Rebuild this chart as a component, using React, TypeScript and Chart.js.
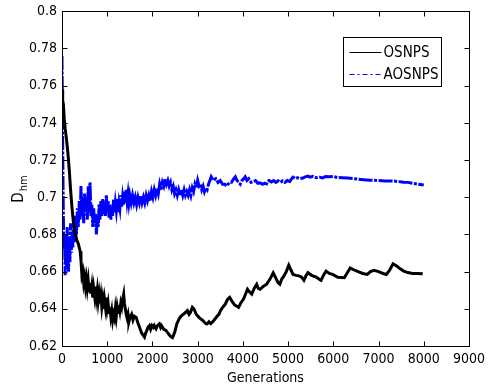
import React, { useEffect, useRef } from "react";
import { Chart, registerables } from "chart.js";

Chart.register(...registerables);

const xTicks = [0, 1000, 2000, 3000, 4000, 5000, 6000, 7000, 8000, 9000];
const yTicks = [0.62, 0.64, 0.66, 0.68, 0.7, 0.72, 0.74, 0.76, 0.78, 0.8];
const seriesNames = ["OSNPS", "AOSNPS"];
const xTitle = "Generations";
const yTitleMain = "D";
const yTitleSub = "hm";

const osnpsGen = [
  0, 15, 30, 50, 70, 100, 130, 160, 190, 219, 250, 290, 328, 360, 401,
  420, 440, 460, 480, 500, 520, 540, 560, 580, 600, 620, 640, 660, 680, 700, 720, 740, 760, 780, 800,
  820, 840, 860, 880, 900, 920, 940, 960, 980, 1000, 1020, 1040, 1060, 1080, 1100, 1120, 1140, 1160, 1180, 1200,
  1220, 1240, 1260, 1280, 1300, 1320, 1340, 1364, 1380, 1400, 1420, 1440, 1460, 1480, 1500,
  1540, 1570, 1600, 1642, 1670, 1700, 1730, 1760, 1790, 1824, 1850, 1870, 1900, 1934, 1960, 1990, 2020, 2040, 2080, 2110, 2153, 2180, 2200,
  2250, 2300, 2340, 2370, 2410, 2444, 2470, 2500, 2540, 2591, 2630, 2680, 2730, 2773, 2810, 2840, 2883, 2919, 2970, 3029, 3066, 3100, 3140, 3180, 3211, 3250, 3290, 3357, 3430,
  3470, 3504, 3560, 3614, 3660, 3708, 3760, 3820, 3860, 3905, 3950, 4014, 4060, 4102, 4150, 4196, 4250, 4305, 4340, 4380, 4450, 4525,
  4600, 4671, 4740, 4780, 4818, 4860, 4906, 4960, 5015, 5060, 5109, 5180, 5256, 5300, 5350, 5400, 5438, 5520, 5620, 5680, 5729,
  5780, 5839, 5910, 5985, 6100, 6242, 6300, 6373, 6450, 6550, 6650, 6752, 6820, 6899, 7000, 7100, 7175, 7250, 7321, 7400,
  7480, 7556, 7650, 7750, 7850, 7978,
];
const osnpsVal = [
  0.758, 0.752, 0.75, 0.742, 0.737, 0.731, 0.724, 0.715, 0.704, 0.695, 0.687, 0.681, 0.677, 0.675, 0.671,
  0.666, 0.658, 0.66, 0.654, 0.657, 0.652, 0.656, 0.651, 0.655, 0.649, 0.654, 0.648, 0.652, 0.646, 0.651, 0.647, 0.652, 0.646, 0.65, 0.644,
  0.648, 0.643, 0.647, 0.641, 0.645, 0.64, 0.645, 0.641, 0.646, 0.64, 0.643, 0.638, 0.641, 0.636, 0.639, 0.634, 0.637, 0.635, 0.64, 0.636,
  0.641, 0.638, 0.642, 0.639, 0.643, 0.641, 0.645, 0.6479, 0.643, 0.64, 0.637, 0.635, 0.637, 0.633, 0.635,
  0.637, 0.634, 0.636, 0.6354, 0.633, 0.631, 0.629, 0.627, 0.626, 0.6248, 0.627, 0.628, 0.63, 0.631, 0.629, 0.631, 0.63, 0.631, 0.6293, 0.631, 0.6319, 0.63, 0.631,
  0.629, 0.6284, 0.627, 0.626, 0.625, 0.6245, 0.626, 0.628, 0.632, 0.6346, 0.636, 0.637, 0.638, 0.639, 0.637, 0.638, 0.6408, 0.6399, 0.637, 0.6354, 0.6346, 0.634, 0.633, 0.632, 0.6319, 0.633, 0.632, 0.6337, 0.636,
  0.637, 0.639, 0.641, 0.6426, 0.645, 0.6461, 0.644, 0.642, 0.6415, 0.6408, 0.643, 0.6452, 0.648, 0.6505, 0.649, 0.6479, 0.651, 0.6532, 0.651, 0.6505, 0.652, 0.6532,
  0.656, 0.6594, 0.656, 0.654, 0.6532, 0.656, 0.6576, 0.66, 0.6635, 0.661, 0.6585, 0.658, 0.6576, 0.657, 0.6553, 0.658, 0.6594, 0.658, 0.6571, 0.656, 0.6553,
  0.658, 0.6603, 0.659, 0.6585, 0.657, 0.6567, 0.659, 0.662, 0.661, 0.66, 0.659, 0.6585, 0.66, 0.6607, 0.66, 0.659, 0.6585, 0.661, 0.6642, 0.663,
  0.6615, 0.6603, 0.6595, 0.659, 0.659, 0.6588,
];

const aosnpsGen = [
  0, 10, 20, 30, 40, 55, 70, 85, 100, 115, 130, 145, 160, 175, 190, 205, 220, 240, 260, 280,
  300, 320, 340, 360, 380, 400, 420, 440, 460, 480, 500, 520, 540, 560, 580, 600, 620, 640, 660, 680,
  700, 720, 740, 760, 780, 800, 820, 840, 860, 880, 900, 920, 940, 960, 980, 1000, 1020, 1040, 1060, 1080,
  1100, 1120, 1140, 1160, 1180, 1200, 1220, 1240, 1260, 1280, 1300, 1320, 1340, 1360, 1380, 1400, 1420, 1440, 1460, 1480,
  1500, 1530, 1560, 1590, 1620, 1650, 1680, 1710, 1740, 1770, 1800, 1830, 1860, 1890, 1920, 1950, 1980, 2010, 2040, 2070,
  2100, 2130, 2160, 2190, 2220, 2250, 2280, 2310, 2340, 2370, 2400, 2430, 2460, 2490, 2520, 2550, 2580, 2610, 2640, 2670,
  2700, 2730, 2760, 2790, 2820, 2850, 2880, 2910, 2940, 2970, 3000, 3030, 3060, 3090, 3120, 3150, 3180, 3210, 3240, 3270,
  3300, 3350, 3400, 3450, 3500, 3550, 3600, 3650, 3700, 3750, 3800, 3833, 3870, 3910, 3942, 3980, 4020, 4052, 4090, 4130,
  4180, 4233, 4280, 4330, 4380, 4430, 4480, 4511, 4540, 4580, 4630, 4680, 4730, 4780, 4830, 4880, 4930, 4980, 5037, 5080,
  5109, 5160, 5210, 5260, 5328, 5380, 5438, 5490, 5550, 5620, 5694, 5760, 5830, 5913, 6000, 6095, 6200, 6314, 6450, 6605,
  6800, 6971, 7150, 7336, 7450, 7556, 7650, 7775, 7880, 8000,
];
const aosnpsVal = [
  0.776, 0.745, 0.715, 0.69, 0.672, 0.68, 0.658, 0.675, 0.662, 0.684, 0.668, 0.66, 0.678, 0.665, 0.686, 0.67, 0.682, 0.673, 0.688, 0.676,
  0.69, 0.68, 0.694, 0.684, 0.698, 0.688, 0.706, 0.69, 0.7, 0.686, 0.702, 0.692, 0.698, 0.688, 0.706, 0.692, 0.708, 0.69, 0.696, 0.684,
  0.694, 0.686, 0.691, 0.68, 0.69, 0.684, 0.696, 0.688, 0.698, 0.69, 0.699, 0.691, 0.697, 0.69, 0.701, 0.692, 0.698, 0.689, 0.696, 0.688,
  0.695, 0.69, 0.699, 0.692, 0.697, 0.693, 0.699, 0.692, 0.697, 0.694, 0.701, 0.695, 0.7, 0.696, 0.703, 0.697, 0.704, 0.698, 0.702, 0.697,
  0.701, 0.697, 0.701, 0.697, 0.7, 0.696, 0.7, 0.697, 0.701, 0.697, 0.7, 0.697, 0.701, 0.698, 0.701, 0.698, 0.703, 0.7, 0.704, 0.701,
  0.705, 0.702, 0.707, 0.704, 0.708, 0.706, 0.71, 0.707, 0.709, 0.706, 0.708, 0.704, 0.706, 0.702, 0.704, 0.701, 0.704, 0.701, 0.704, 0.701,
  0.704, 0.701, 0.703, 0.701, 0.704, 0.701, 0.705, 0.703, 0.707, 0.705, 0.709, 0.706, 0.707, 0.704, 0.706, 0.703, 0.705, 0.704, 0.707, 0.709,
  0.711, 0.709, 0.71, 0.708, 0.709, 0.707, 0.707, 0.706, 0.708, 0.708, 0.71, 0.711, 0.709, 0.708, 0.707, 0.709, 0.71, 0.711, 0.709, 0.71,
  0.708, 0.7085, 0.709, 0.7075, 0.7078, 0.707, 0.7075, 0.7064, 0.7085, 0.709, 0.7082, 0.709, 0.708, 0.7088, 0.708, 0.7088, 0.708, 0.709, 0.7085, 0.71,
  0.7108, 0.71, 0.7105, 0.71, 0.7103, 0.711, 0.7114, 0.7108, 0.7112, 0.7105, 0.7108, 0.7104, 0.7111, 0.711, 0.7112, 0.7106, 0.7105, 0.7103, 0.71, 0.7096,
  0.7092, 0.709, 0.7088, 0.7087, 0.7084, 0.7081, 0.708, 0.7074, 0.707, 0.7066,
];

const FONT = "'Liberation Sans Narrow', 'DejaVu Sans Condensed', 'Liberation Sans', Arial, sans-serif";
const BLUE = "#0000ff";
const BLUE_DASH = [14, 1.5, 3, 1.5];
const LEGEND_DASH = [5, 3, 2, 3];

const framePlugin = {
  id: "matlabFrame",
  afterDraw(chart: any) {
    const { ctx, chartArea: a, scales } = chart;
    const L = Math.round(a.left) + 0.5;
    const R = Math.round(a.right) + 0.5;
    const T = Math.round(a.top) + 0.5;
    const B = Math.round(a.bottom) + 0.5;
    ctx.save();
    ctx.strokeStyle = "#000";
    ctx.lineWidth = 1;
    ctx.setLineDash([]);
    ctx.strokeRect(L, T, R - L, B - T);
    const tl = 5;
    ctx.beginPath();
    scales.x.ticks.forEach((t: any) => {
      const px = Math.round(scales.x.getPixelForValue(t.value)) + 0.5;
      ctx.moveTo(px, B);
      ctx.lineTo(px, B - tl);
      ctx.moveTo(px, T);
      ctx.lineTo(px, T + tl);
    });
    scales.y.ticks.forEach((t: any) => {
      const py = Math.round(scales.y.getPixelForValue(t.value)) + 0.5;
      ctx.moveTo(L, py);
      ctx.lineTo(L + tl, py);
      ctx.moveTo(R, py);
      ctx.lineTo(R - tl, py);
    });
    ctx.stroke();

    // legend box
    const bx = Math.round(a.right - 126) + 0.5;
    const by = Math.round(a.top + 26) + 0.5;
    const bw = 98;
    const bh = 49;
    ctx.fillStyle = "#fff";
    ctx.fillRect(bx, by, bw, bh);
    ctx.strokeRect(bx, by, bw, bh);
    ctx.font = `15px ${FONT}`;
    ctx.textBaseline = "middle";
    ctx.textAlign = "left";
    const rows = [
      { y: by + 14.5, color: "#000", dash: [] as number[] },
      { y: by + 36.5, color: BLUE, dash: LEGEND_DASH },
    ];
    rows.forEach((r, i) => {
      ctx.beginPath();
      ctx.strokeStyle = r.color;
      ctx.setLineDash(r.dash);
      ctx.moveTo(bx + 6, Math.round(r.y) + 0.5);
      ctx.lineTo(bx + 38, Math.round(r.y) + 0.5);
      ctx.stroke();
      ctx.setLineDash([]);
      ctx.fillStyle = "#000";
      ctx.fillText(seriesNames[i], bx + 40, r.y + 1);
    });

    // y title with subscript
    const cy = (a.top + a.bottom) / 2;
    ctx.save();
    ctx.translate(23, cy + 24);
    ctx.rotate(-Math.PI / 2);
    ctx.textBaseline = "alphabetic";
    ctx.font = `15px ${FONT}`;
    ctx.fillStyle = "#000";
    ctx.fillText(yTitleMain, 0, 0);
    const w = ctx.measureText(yTitleMain).width;
    ctx.font = `11px ${FONT}`;
    ctx.fillText(yTitleSub, w + 1, 4);
    ctx.restore();
    ctx.restore();
  },
};

export default function App() {
  const ref = useRef<HTMLCanvasElement | null>(null);
  useEffect(() => {
    document.body.style.margin = "0";
    const canvas = ref.current;
    if (!canvas) return;
    const chart = new Chart(canvas, {
      type: "line",
      data: {
        datasets: [
          {
            label: seriesNames[0],
            data: osnpsGen.map((g, i) => ({ x: g, y: osnpsVal[i] })),
            borderColor: "#000",
            borderWidth: 3,
            pointRadius: 0,
            tension: 0,
            fill: false,
          },
          {
            label: seriesNames[1],
            data: aosnpsGen.map((g, i) => ({ x: g, y: aosnpsVal[i] })),
            borderColor: BLUE,
            borderWidth: 3,
            borderDash: BLUE_DASH,
            pointRadius: 0,
            tension: 0,
            fill: false,
          },
        ],
      },
      plugins: [framePlugin],
      options: {
        responsive: false,
        animation: false,
        events: [],
        layout: { padding: { left: 0, right: 18, top: 7, bottom: 0 } },
        plugins: { legend: { display: false }, tooltip: { enabled: false } },
        scales: {
          x: {
            type: "linear",
            min: 0,
            max: 9000,
            afterBuildTicks: (s: any) => {
              s.ticks = xTicks.map((v) => ({ value: v }));
            },
            afterFit: (s: any) => {
              s.height = 46;
            },
            grid: { display: false, drawTicks: false },
            border: { display: false },
            ticks: {
              color: "#000",
              padding: 6,
              maxRotation: 0,
              autoSkip: false,
              font: { family: FONT, size: 14, lineHeight: 1 },
              callback: (v: any) => String(v),
            },
            title: {
              display: true,
              text: xTitle,
              color: "#000",
              font: { family: FONT, size: 14, lineHeight: 1.2 },
              padding: { top: 0, bottom: 5 },
            },
          },
          y: {
            type: "linear",
            min: 0.62,
            max: 0.8,
            afterBuildTicks: (s: any) => {
              s.ticks = yTicks.map((v) => ({ value: v }));
            },
            afterFit: (s: any) => {
              s.width = 62;
            },
            grid: { display: false, drawTicks: false },
            border: { display: false },
            ticks: {
              color: "#000",
              padding: 5,
              autoSkip: false,
              font: { family: FONT, size: 14, lineHeight: 0.9 },
              callback: (v: any) => String(parseFloat(Number(v).toFixed(2))),
            },
          },
        },
      },
    });
    return () => chart.destroy();
  }, []);
  return <canvas ref={ref} width={491} height={392} style={{ display: "block" }} />;
}
